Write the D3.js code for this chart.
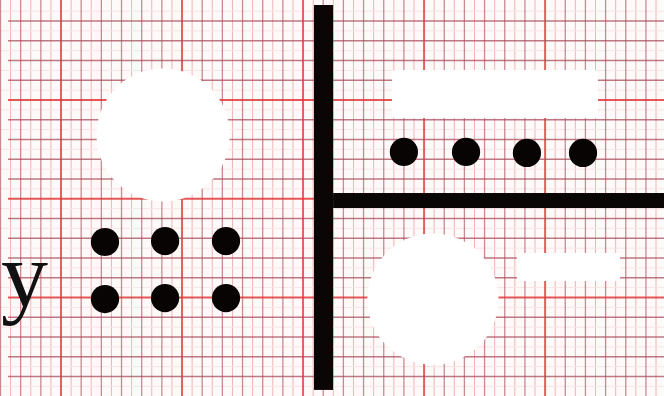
<!DOCTYPE html>
<html>
<head>
<meta charset="utf-8">
<script src="https://cdn.jsdelivr.net/npm/d3@7"></script>
<style>
  html, body { margin: 0; padding: 0; background: #fff; }
  svg { display: block; }
</style>
</head>
<body>
<script>
(function () {

  // Everything is in grid squares of the paper (1 unit = one dark grid square).
  let bigCircles = [
    { cx: 8.06,  cy: 6.77,  r: 3.3 },
    { cx: 21.44, cy: 15.08, r: 3.25 },
  ];

  let whiteBars = [
    { x0: 19.41, x1: 29.62, y0: 3.48,  y1: 5.91 },
    { x0: 25.6,  x1: 30.72, y0: 12.75, y1: 14.16 },
  ];

  let rowDots = [
    { cx: 20.0,  cy: 7.63 },
    { cx: 23.08, cy: 7.63 },
    { cx: 26.1,  cy: 7.68 },
    { cx: 28.88, cy: 7.68 },
  ];

  let blockDots = [
    { cx: 5.18,  cy: 12.19 },
    { cx: 8.16,  cy: 12.14 },
    { cx: 11.18, cy: 12.14 },
    { cx: 5.18,  cy: 15.08 },
    { cx: 8.16,  cy: 15.03 },
    { cx: 11.18, cy: 15.03 },
  ];
  let dotRadius = 0.7;

  let blackBars = [
    { x0: 15.54, x1: 16.49, y0: 0.19, y1: 19.68 },
    { x0: 16.49, x1: 33.2,  y0: 9.71, y1: 10.47 },
  ];

  let label = { text: 'y', x: 0.02, y: 15.43 };

  function go() {

    let width  = 664;
    let height = 396;

    // 0.5px offset so the thick red lines land where the photo has them
    let x = d3.scaleLinear().domain([0, 33]).range([0.5, 0.5 + 33 * 20.17]);
    let y = d3.scaleLinear().domain([0, 20]).range([1.25, 1.25 + 20 * 19.75]);
    let unit = x(1) - x(0);

    let svg = d3.select('body').append('svg')
        .attr('width', width)
        .attr('height', height)
        .attr('viewBox', '0 0 ' + width + ' ' + height);

    svg.append('rect')
      .attr('width', width)
      .attr('height', height)
      .attr('fill', '#fffafa');

    // Paper grid
    let grid = svg.append('g').attr('class', 'grid');

    let halfX = d3.range(0.5, 33, 1);
    let halfY = d3.range(0.5, 20, 1);
    let fullX = d3.range(0, 34, 1);
    let fullY = d3.range(1, 20, 1);

    grid.selectAll('line.vhalf').data(halfX).enter().append('line')
      .attr('class', 'vhalf')
      .attr('x1', d => x(d)).attr('x2', d => x(d))
      .attr('y1', 0).attr('y2', height)
      .attr('stroke', '#f0b4b4').attr('stroke-width', 1);

    grid.selectAll('line.hhalf').data(halfY).enter().append('line')
      .attr('class', 'hhalf')
      .attr('y1', d => y(d)).attr('y2', d => y(d))
      .attr('x1', 0).attr('x2', width)
      .attr('stroke', '#f8e4e4').attr('stroke-width', 1);

    grid.selectAll('line.vfull').data(fullX).enter().append('line')
      .attr('class', 'vfull')
      .attr('x1', d => x(d)).attr('x2', d => x(d))
      .attr('y1', 0).attr('y2', height)
      .attr('stroke', d => d % 6 == 3 ? '#e03838' : '#b25a68')
      .attr('stroke-opacity', d => d % 6 == 3 ? 0.8 : 0.7)
      .attr('stroke-width', d => d % 6 == 3 ? 2 : 1.3);

    grid.selectAll('line.hfull').data(fullY).enter().append('line')
      .attr('class', 'hfull')
      .attr('y1', d => y(d)).attr('y2', d => y(d))
      .attr('x1', 8).attr('x2', width)
      .attr('stroke', d => d % 5 == 0 ? '#e03838' : '#a84c5c')
      .attr('stroke-opacity', d => d % 5 == 0 ? 0.85 : 0.75)
      .attr('stroke-width', d => d % 5 == 0 ? 2.2 : 1.4);

    // White blobs (paint out the grid)
    svg.append('g').selectAll('circle.blob').data(bigCircles).enter().append('circle')
      .attr('class', 'blob')
      .attr('cx', d => x(d.cx))
      .attr('cy', d => y(d.cy))
      .attr('r', d => d.r * unit)
      .attr('fill', '#fff');

    svg.append('g').selectAll('rect.blob').data(whiteBars).enter().append('rect')
      .attr('class', 'blob')
      .attr('x', d => x(d.x0))
      .attr('y', d => y(d.y0))
      .attr('width', d => x(d.x1) - x(d.x0))
      .attr('height', d => y(d.y1) - y(d.y0))
      .attr('rx', 4)
      .attr('fill', '#fff');

    // Black marks
    svg.append('g').selectAll('rect.bar').data(blackBars).enter().append('rect')
      .attr('class', 'bar')
      .attr('x', d => x(d.x0))
      .attr('y', d => y(d.y0))
      .attr('width', d => x(d.x1) - x(d.x0))
      .attr('height', d => y(d.y1) - y(d.y0))
      .attr('fill', '#0a0606');

    svg.append('g').selectAll('circle.dot').data(rowDots.concat(blockDots)).enter().append('circle')
      .attr('class', 'dot')
      .attr('cx', d => x(d.cx))
      .attr('cy', d => y(d.cy))
      .attr('r', dotRadius * unit)
      .attr('fill', '#080404');

    svg.append('text')
      .attr('x', x(label.x))
      .attr('y', y(label.y))
      .attr('font-family', '"Liberation Serif", "DejaVu Serif", serif')
      .attr('font-size', 94)
      .attr('fill', '#111')
      .text(label.text);
  }

  document.addEventListener('DOMContentLoaded', go);

})();
</script>
</body>
</html>
